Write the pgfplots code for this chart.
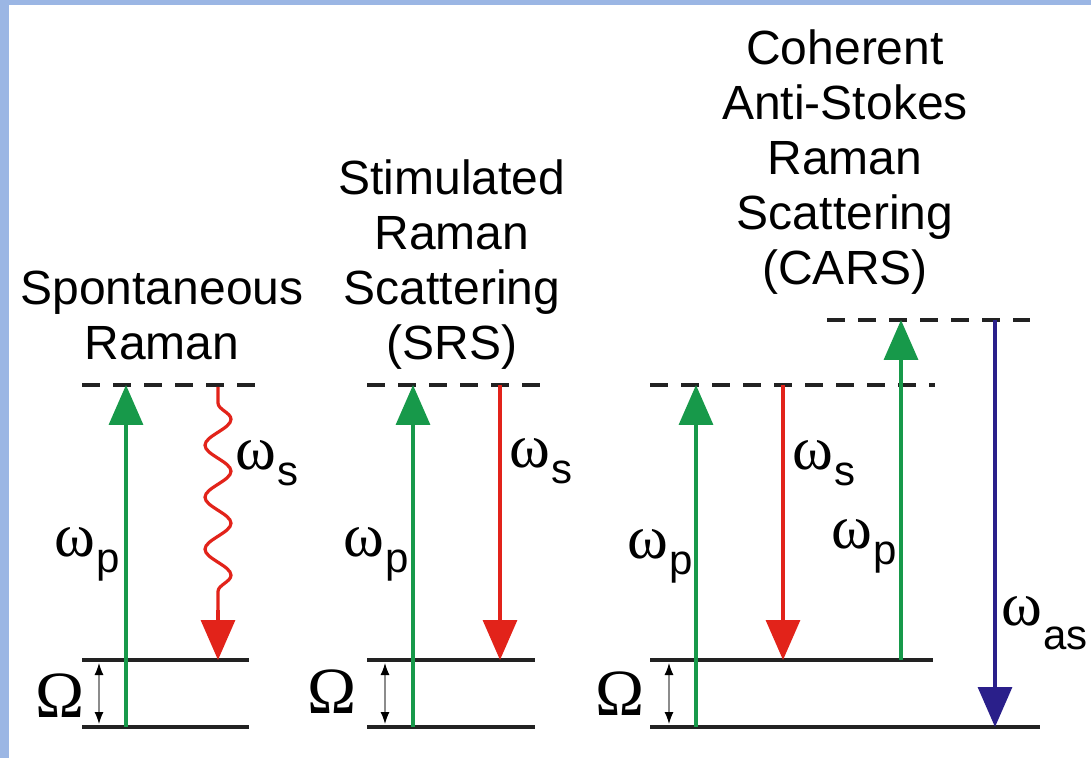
\documentclass[border=0pt]{standalone}
\usepackage{pgfplots}
\pgfplotsset{compat=1.18}
\usepackage{fontspec}
\setmainfont{Liberation Sans}
\newfontfamily\serif{Liberation Serif}
\usetikzlibrary{arrows.meta,decorations.pathmorphing}

\definecolor{pump}{HTML}{17994A}
\definecolor{stokes}{HTML}{E2231A}
\definecolor{astokes}{HTML}{2A1F8A}
\definecolor{frame}{HTML}{9BB6E4}
\definecolor{level}{HTML}{222222}

\newcommand{\titlefont}{\fontsize{24}{28}\selectfont}
% omega with a sans subscript, dropped by #2
\newcommand{\om}[2]{{\serif\fontsize{31}{31}\selectfont ω}\kern0.5pt\raisebox{-#2}{\fontsize{21}{21}\selectfont #1}}
\newcommand{\Om}{{\serif\fontsize{33}{33}\selectfont Ω}}

\tikzset{
  lev/.style={level, line width=1.7pt},
  virt/.style={level, line width=1.7pt, dash pattern=on 9pt off 6.5pt},
  beam/.style={line width=1.6pt, -{Triangle[length=20pt,width=17pt]}},
  gap/.style={black!45, line width=0.6pt,
    {Latex[length=6pt,width=4.5pt,color=black]}-{Latex[length=6pt,width=4.5pt,color=black]}},
}

\begin{document}
\begin{tikzpicture}
\begin{axis}[
  scale only axis, width=545.5pt, height=379pt,
  xmin=0, xmax=1091, ymin=0, ymax=758, y dir=reverse,
  hide axis, clip=false]

% page frame
\fill[frame] (0,0) rectangle (1091,758);
\fill[white] (9,5) rectangle (1091,758);

% ---------- Spontaneous Raman ----------
\addplot[lev] coordinates {(82,727) (249,727)};
\addplot[lev] coordinates {(82,660) (249,660)};
\addplot[virt] coordinates {(82,385) (258,385)};
\addplot[beam, pump, line width=1.7pt] coordinates {(126,727) (126,385)};
\addplot[stokes, line width=1.6pt, decorate,
  decoration={snake, amplitude=6.5pt, segment length=26pt, pre length=8pt}]
  coordinates {(218,387) (218,612)};
\addplot[beam, stokes] coordinates {(218,610) (218,660)};
\addplot[gap] coordinates {(99,663) (99,724)};

% ---------- SRS ----------
\addplot[lev] coordinates {(367,727) (535,727)};
\addplot[lev] coordinates {(367,660) (535,660)};
\addplot[virt] coordinates {(367,385) (540,385)};
\addplot[beam, pump, line width=1.7pt] coordinates {(413,727) (413,385)};
\addplot[beam, stokes] coordinates {(500,385) (500,660)};
\addplot[gap] coordinates {(385,663) (385,724)};

% ---------- CARS ----------
\addplot[lev] coordinates {(650,727) (1040,727)};
\addplot[lev] coordinates {(650,660) (933,660)};
\addplot[virt] coordinates {(650,385) (935,385)};
\addplot[virt] coordinates {(827,320) (1030,320)};
\addplot[beam, pump, line width=1.7pt] coordinates {(696,727) (696,385)};
\addplot[beam, stokes] coordinates {(783,385) (783,660)};
\addplot[beam, pump, line width=1.7pt] coordinates {(901,660) (901,320)};
\addplot[beam, astokes] coordinates {(995,320) (995,727)};
\addplot[gap] coordinates {(669,663) (669,724)};

% titles
\node[anchor=base, font=\titlefont] at (162,305) {Spontaneous};
\node[anchor=base, font=\titlefont] at (162,360) {Raman};

\node[anchor=base, font=\titlefont] at (452,195) {Stimulated};
\node[anchor=base, font=\titlefont] at (452,250) {Raman};
\node[anchor=base, font=\titlefont] at (452,305) {Scattering};
\node[anchor=base, font=\titlefont] at (452,360) {(SRS)};

\node[anchor=base, font=\titlefont] at (845,65) {Coherent};
\node[anchor=base, font=\titlefont] at (845,120) {Anti-Stokes};
\node[anchor=base, font=\titlefont] at (845,175) {Raman};
\node[anchor=base, font=\titlefont] at (845,230) {Scattering};
\node[anchor=base, font=\titlefont] at (845,285) {(CARS)};

% frequency labels
\node[anchor=base west, inner sep=0pt] at (54,556) {\om{p}{8pt}};
\node[anchor=base west, inner sep=0pt] at (235,470) {\om{s}{8pt}};
\node[anchor=base west, inner sep=0pt] at (343,556) {\om{p}{8pt}};
\node[anchor=base west, inner sep=0pt] at (509,467) {\om{s}{8pt}};
\node[anchor=base west, inner sep=0pt] at (627,558) {\om{p}{8pt}};
\node[anchor=base west, inner sep=0pt] at (792,470) {\om{s}{8pt}};
\node[anchor=base west, inner sep=0pt] at (831,548) {\om{p}{8pt}};
\node[anchor=base west, inner sep=0pt] at (1001,625) {\om{as}{12pt}};

\node[anchor=base, inner sep=0pt] at (60,717) {\Om};
\node[anchor=base, inner sep=0pt] at (332,713) {\Om};
\node[anchor=base, inner sep=0pt] at (620,715) {\Om};
\end{axis}
\pgfresetboundingbox
\path[use as bounding box] (0,0) rectangle (545.5pt,379pt);
\end{tikzpicture}
\end{document}
